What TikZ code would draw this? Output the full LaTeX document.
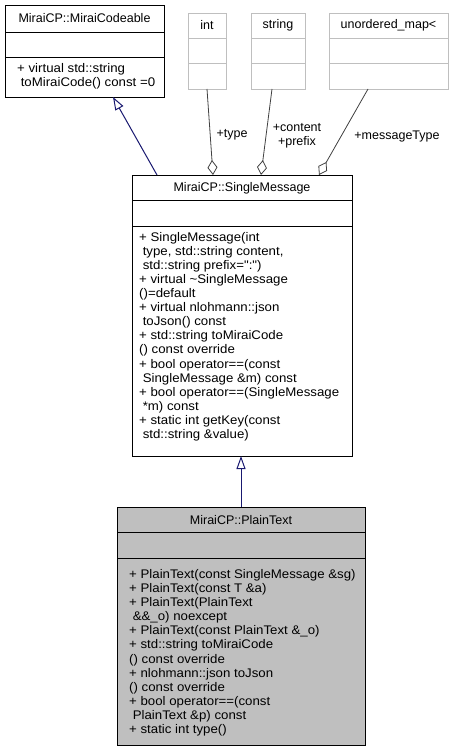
\documentclass[tikz,border=0pt]{standalone}
\usepackage{fontspec}
\setmainfont{Liberation Sans}
\newfontfamily\memfont[FakeStretch=1.06]{Liberation Sans}
\usetikzlibrary{arrows.meta,calc}
\definecolor{navyline}{HTML}{191970}
\definecolor{grey25}{HTML}{404040}
\definecolor{grey75}{HTML}{BFBFBF}
\newcommand\lsp{\hspace*{3.6pt}}
\begin{document}
\begin{tikzpicture}[x=1pt,y=-1pt,
  font=\fontsize{12.5}{14.1}\selectfont,
  box/.style={draw=black, line width=0.8pt, fill=white, inner sep=0pt, outer sep=0pt, anchor=north west},
  greybox/.style={box, draw=grey75},
  curbox/.style={box, draw=black, fill=grey75},
  sepline/.style={line width=0.8pt, draw=black},
  greysep/.style={line width=0.8pt, draw=grey75},
  title/.style={inner sep=0pt, anchor=center},
  members/.style={inner sep=0pt, anchor=base west, align=left, font=\memfont\fontsize{12.5}{14.1}\selectfont},
  inh/.style={draw=navyline, line width=1pt, -{Triangle[open, length=13pt, width=9pt]}},
  agg/.style={draw=grey25, line width=0.8pt, -{Diamond[open, length=15pt, width=10pt]}},
  lbl/.style={inner sep=0pt, align=center}]
\useasboundingbox (0,0) rectangle (453,751);

% MiraiCodeable
\node[box, minimum width=159pt, minimum height=92pt] (mc) at (5,5) {};
\draw[sepline] (mc.west |- 0,32) -- (mc.east |- 0,32);
\draw[sepline] (mc.west |- 0,57) -- (mc.east |- 0,57);
\node[title] (mct) at (84.5,18.5) {MiraiCP::MiraiCodeable};
\node[members] (mcm) at (17,86.5) {+ virtual std::string\\\lsp toMiraiCode() const =0};

% int
\node[greybox, minimum width=38pt, minimum height=76pt] (int) at (188,13) {};
\draw[greysep] (int.west |- 0,38) -- (int.east |- 0,38);
\draw[greysep] (int.west |- 0,63) -- (int.east |- 0,63);
\node[title] (intt) at (207,25.5) {int};

% string
\node[greybox, minimum width=54pt, minimum height=76pt] (str) at (251,13) {};
\draw[greysep] (str.west |- 0,38) -- (str.east |- 0,38);
\draw[greysep] (str.west |- 0,63) -- (str.east |- 0,63);
\node[title] (strt) at (278,25.5) {string};

% unordered_map
\node[greybox, minimum width=119pt, minimum height=76pt] (map) at (329,13) {};
\draw[greysep] (map.west |- 0,38) -- (map.east |- 0,38);
\draw[greysep] (map.west |- 0,63) -- (map.east |- 0,63);
\node[title] (mapt) at (388.5,25.5) {unordered\_map<};

% SingleMessage
\node[box, minimum width=220pt, minimum height=281pt] (sm) at (132,175) {};
\draw[sepline] (sm.west |- 0,200.5) -- (sm.east |- 0,200.5);
\draw[sepline] (sm.west |- 0,226) -- (sm.east |- 0,226);
\node[title] (smt) at (242,188) {MiraiCP::SingleMessage};
\node[members] (smm) at (139,438.5) {+ SingleMessage(int\\
\lsp type, std::string content,\\
\lsp std::string prefix=":")\\
+ virtual \textasciitilde SingleMessage\\
()=default\\
+ virtual nlohmann::json\\
\lsp toJson() const\\
+ std::string toMiraiCode\\
() const override\\
+ bool operator==(const\\
\lsp SingleMessage \&m) const\\
+ bool operator==(SingleMessage\\
\lsp *m) const\\
+ static int getKey(const\\
\lsp std::string \&value)};

% PlainText
\node[curbox, minimum width=248pt, minimum height=238pt] (pt) at (117,507) {};
\draw[sepline] (pt.west |- 0,532.5) -- (pt.east |- 0,532.5);
\draw[sepline] (pt.west |- 0,558) -- (pt.east |- 0,558);
\node[title] (ptt) at (241,520) {MiraiCP::PlainText};
\node[members] (ptm) at (129,733.5) {+ PlainText(const SingleMessage \&sg)\\
+ PlainText(const T \&a)\\
+ PlainText(PlainText\\
\lsp \&\&\_o) noexcept\\
+ PlainText(const PlainText \&\_o)\\
+ std::string toMiraiCode\\
() const override\\
+ nlohmann::json toJson\\
() const override\\
+ bool operator==(const\\
\lsp PlainText \&p) const\\
+ static int type()};

% connector end points
\coordinate (smin1) at ($(sm.north west)+(25,0)$);
\coordinate (mcout) at ($(mc.south west)+(108,0)$);
\coordinate (ptin) at (pt.north);
\coordinate (smout) at ($(sm.south west)+(109,0)$);
\coordinate (intout) at ($(int.south west)+(19,0)$);
\coordinate (strout) at ($(str.south west)+(21,0)$);
\coordinate (mapout) at ($(map.south west)+(39,0)$);
\coordinate (aggint) at ($(sm.north west)+(81,0)$);
\coordinate (aggstr) at ($(sm.north west)+(129,0)$);
\coordinate (aggmap) at ($(sm.north west)+(187,0)$);

% inheritance
\draw[inh] (smin1) -- (mcout);
\draw[inh] (ptin) -- (smout);

% aggregation
\draw[agg] (intout) -- (aggint);
\draw[agg] (strout) -- (aggstr);
\draw[agg] (mapout) -- (aggmap);

% labels
\node[lbl] (ltype) at (232,135) {+type};
\node[lbl] (lcont) at (297,135.5) {+content\\+prefix};
\node[lbl] (lmsg) at (397,136) {+messageType};
\end{tikzpicture}
\end{document}
